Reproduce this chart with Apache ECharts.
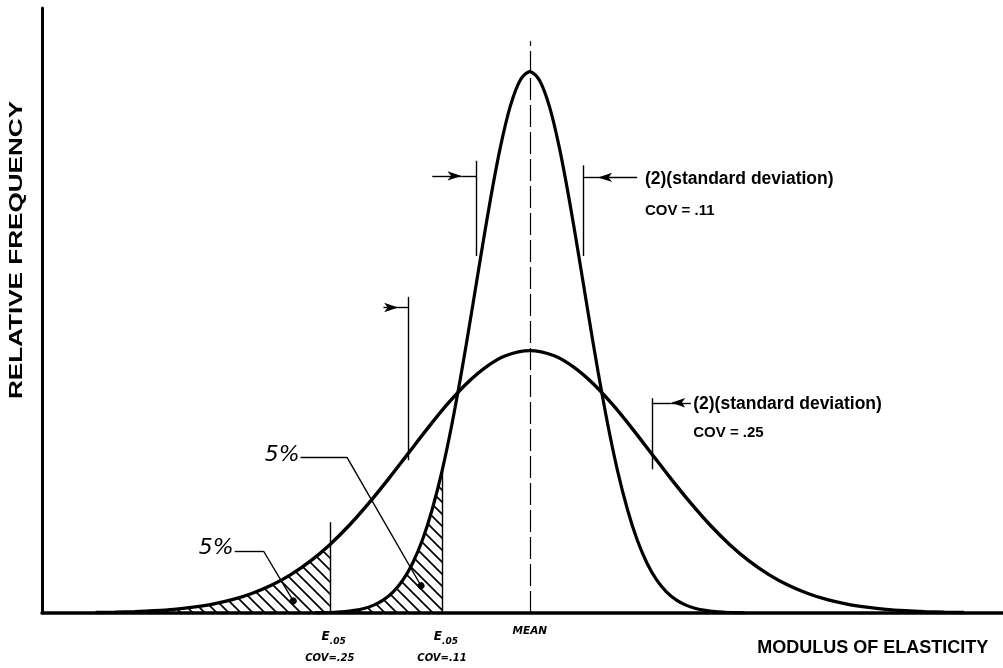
<!DOCTYPE html>
<html>
<head>
<meta charset="utf-8">
<script src="https://cdn.jsdelivr.net/npm/echarts@6/dist/echarts.min.js"></script>
<style>
  html, body { margin: 0; padding: 0; background: #fff; }
  #chart { width: 1003px; height: 668px; }
</style>
</head>
<body>
<div id="chart"></div>
<script>
// Modulus of elasticity, relative to the mean (mean = 1.0)
const wideModulus = [0.11, 0.15, 0.19, 0.23, 0.27, 0.31, 0.35, 0.39, 0.43, 0.47, 0.51, 0.55, 0.59, 0.63, 0.67, 0.71, 0.75, 0.79, 0.83, 0.87, 0.91, 0.95, 1.00,
  1.05, 1.09, 1.13, 1.17, 1.21, 1.25, 1.29, 1.33, 1.37, 1.41, 1.45, 1.49, 1.53, 1.57, 1.61, 1.65, 1.69, 1.73, 1.77, 1.81, 1.85, 1.89];
// Relative frequency, COV = .25
const wideFreq = [0.003, 0.005, 0.009, 0.015, 0.024, 0.039, 0.059, 0.088, 0.129, 0.183, 0.254, 0.343, 0.452, 0.580, 0.726, 0.885, 1.052, 1.219, 1.377, 1.516, 1.626, 1.701, 1.735,
  1.701, 1.626, 1.516, 1.377, 1.219, 1.052, 0.885, 0.726, 0.580, 0.452, 0.343, 0.254, 0.183, 0.129, 0.088, 0.059, 0.039, 0.024, 0.015, 0.009, 0.005, 0.003];

const tallModulus = [0.56, 0.58, 0.60, 0.62, 0.64, 0.66, 0.68, 0.70, 0.72, 0.74, 0.76, 0.78, 0.80, 0.82, 0.84, 0.86, 0.88, 0.90, 0.92, 0.94, 0.96, 0.98, 1.00,
  1.02, 1.04, 1.06, 1.08, 1.10, 1.12, 1.14, 1.16, 1.18, 1.20, 1.22, 1.24, 1.26, 1.28, 1.30, 1.32, 1.34, 1.36, 1.38, 1.40, 1.42, 1.44];
// Relative frequency, COV = .11
const tallFreq = [0.001, 0.002, 0.005, 0.009, 0.017, 0.030, 0.052, 0.087, 0.140, 0.219, 0.331, 0.484, 0.686, 0.938, 1.243, 1.593, 1.975, 2.368, 2.748, 3.085, 3.351, 3.521, 3.580,
  3.521, 3.351, 3.085, 2.748, 2.368, 1.975, 1.593, 1.243, 0.938, 0.686, 0.484, 0.331, 0.219, 0.140, 0.087, 0.052, 0.030, 0.017, 0.009, 0.005, 0.002, 0.001];

const meanValue = 1.0;
const e05Wide = 0.59;   // lower 5% value, COV = .25
const e05Tall = 0.82;   // lower 5% value, COV = .11
const sdWide = 0.25;
const sdTall = 0.11;

const pairs = (xs, ys) => xs.map((x, i) => [x, ys[i]]);
const wideData = pairs(wideModulus, wideFreq);
const tallData = pairs(tallModulus, tallFreq);
const wideTail = wideData.filter(p => p[0] <= e05Wide + 1e-9);
const tallTail = tallData.filter(p => p[0] <= e05Tall + 1e-9);

// diagonal hatching for the 5% tails
function hatch() {
  const s = 12;
  const c = document.createElement('canvas');
  c.width = s; c.height = s;
  const g = c.getContext('2d');
  g.strokeStyle = '#000';
  g.lineWidth = 1.7;
  g.beginPath();
  g.moveTo(-2, -2); g.lineTo(s + 2, s + 2);
  g.moveTo(-2, s - 2); g.lineTo(2, s + 2);
  g.moveTo(s - 2, -2); g.lineTo(s + 2, 2);
  g.stroke();
  return c;
}

const chart = echarts.init(document.getElementById('chart'), null, { renderer: 'canvas' });
const black = '#000';
const seg = (a, b, extra) => [Object.assign({ coord: a, symbol: 'none' }, extra && extra[0]), Object.assign({ coord: b, symbol: 'none' }, extra && extra[1])];
const arrowEnd = { symbol: 'arrow', symbolSize: [7, 14] };
const dotEnd = { symbol: 'circle', symbolSize: 7 };

chart.setOption({
  backgroundColor: '#fff',
  animation: false,
  grid: { left: 42, right: 0, top: 8, bottom: 55 },
  xAxis: {
    type: 'value', min: 0, max: 1.97,
    axisLine: { show: true, onZero: false, lineStyle: { color: black, width: 3.5 } },
    axisTick: { show: false }, axisLabel: { show: false }, splitLine: { show: false }
  },
  yAxis: {
    type: 'value', min: 0, max: 4,
    axisLine: { show: true, lineStyle: { color: black, width: 3 } },
    axisTick: { show: false }, axisLabel: { show: false }, splitLine: { show: false }
  },
  series: [
    {
      type: 'line', data: wideTail, smooth: 0.3, showSymbol: false, silent: true,
      lineStyle: { width: 0 }, areaStyle: { color: { image: hatch(), repeat: 'repeat' }, opacity: 1 }
    },
    {
      type: 'line', data: tallTail, smooth: 0.3, showSymbol: false, silent: true,
      lineStyle: { width: 0 }, areaStyle: { color: { image: hatch(), repeat: 'repeat' }, opacity: 1 }
    },
    {
      type: 'line', data: wideData, smooth: 0.3, showSymbol: false, silent: true,
      lineStyle: { color: black, width: 3.4 }
    },
    {
      type: 'line', data: tallData, smooth: 0.3, showSymbol: false, silent: true,
      lineStyle: { color: black, width: 3.2 },
      markLine: {
        silent: true, animation: false, symbol: 'none',
        lineStyle: { color: black, width: 1.4, type: 'solid' },
        label: { show: false },
        data: [
          // mean
          seg([meanValue, 0], [meanValue, 3.78], [{ lineStyle: { type: [22, 5], width: 1.2 } }]),
          // lower 5% values
          seg([e05Wide, 0], [e05Wide, 0.6]),
          seg([e05Tall, 0], [e05Tall, 0.96]),
          // two standard deviations, COV = .11
          seg([meanValue - sdTall, 2.36], [meanValue - sdTall, 2.99]),
          seg([meanValue + sdTall, 2.36], [meanValue + sdTall, 2.96]),
          seg([0.80, 2.89], [0.86, 2.89], [null, arrowEnd]),
          seg([0.86, 2.89], [meanValue - sdTall, 2.89]),
          seg([1.22, 2.88], [1.14, 2.88], [null, arrowEnd]),
          seg([1.14, 2.88], [meanValue + sdTall, 2.88]),
          // two standard deviations, COV = .25
          seg([meanValue - sdWide, 1.01], [meanValue - sdWide, 2.09]),
          seg([meanValue + sdWide, 0.95], [meanValue + sdWide, 1.42]),
          seg([0.70, 2.02], [0.73, 2.02], [null, arrowEnd]),
          seg([0.73, 2.02], [meanValue - sdWide, 2.02]),
          seg([1.33, 1.39], [1.29, 1.39], [null, arrowEnd]),
          seg([1.29, 1.39], [meanValue + sdWide, 1.39]),
          // 5% leaders
          seg([0.395, 0.41], [0.454, 0.41]),
          seg([0.454, 0.41], [0.515, 0.08], [null, dotEnd]),
          seg([0.53, 1.03], [0.625, 1.03]),
          seg([0.625, 1.03], [0.777, 0.18], [null, dotEnd])
        ]
      }
    }
  ]
});

// text placed at data positions
const px = (x, y) => chart.convertToPixel({ gridIndex: 0 }, [x, y]);
const helv = '"Liberation Sans", Arial, sans-serif';
const hand = '"DejaVu Sans", sans-serif';
function txt(pos, text, font, align) {
  return {
    type: 'text', x: pos[0], y: pos[1], silent: true,
    style: { text: text, fill: black, font: font, textAlign: align || 'left', textVerticalAlign: 'middle' }
  };
}
const g = [];
g.push(txt(px(1.236, 2.87), '(2)(standard deviation)', 'bold 17.5px ' + helv));
g.push(txt(px(1.236, 2.66), 'COV = .11', 'bold 15px ' + helv));
g.push(txt(px(1.335, 1.38), '(2)(standard deviation)', 'bold 17.5px ' + helv));
g.push(txt(px(1.335, 1.19), 'COV = .25', 'bold 15px ' + helv));
g.push(txt(px(1.0, -0.12), 'MEAN', 'italic bold 10.5px ' + hand, 'center'));
g.push(txt(px(e05Wide, -0.16), 'E', 'italic bold 12px ' + hand, 'right'));
g.push(txt(px(e05Wide, -0.19), '.05', 'italic bold 9px ' + hand));
g.push(txt(px(e05Wide, -0.30), 'COV=.25', 'italic bold 10px ' + hand, 'center'));
g.push(txt(px(e05Tall, -0.16), 'E', 'italic bold 12px ' + hand, 'right'));
g.push(txt(px(e05Tall, -0.19), '.05', 'italic bold 9px ' + hand));
g.push(txt(px(e05Tall, -0.30), 'COV=.11', 'italic bold 10px ' + hand, 'center'));
g.push(txt(px(0.393, 0.43), '5%', 'italic 22px ' + hand, 'right'));
g.push(txt(px(0.528, 1.04), '5%', 'italic 22px ' + hand, 'right'));
g.push(txt(px(1.94, -0.23), 'MODULUS OF ELASTICITY', 'bold 18px ' + helv, 'right'));
const yTitle = px(0, 2.4);
g.push({
  type: 'text', x: 17, y: yTitle[1], rotation: Math.PI / 2, scaleX: 1.45, silent: true,
  style: { text: 'RELATIVE FREQUENCY', fill: black, font: 'bold 18px ' + helv, textAlign: 'center', textVerticalAlign: 'middle' }
});
chart.setOption({ graphic: g });
</script>
</body>
</html>
